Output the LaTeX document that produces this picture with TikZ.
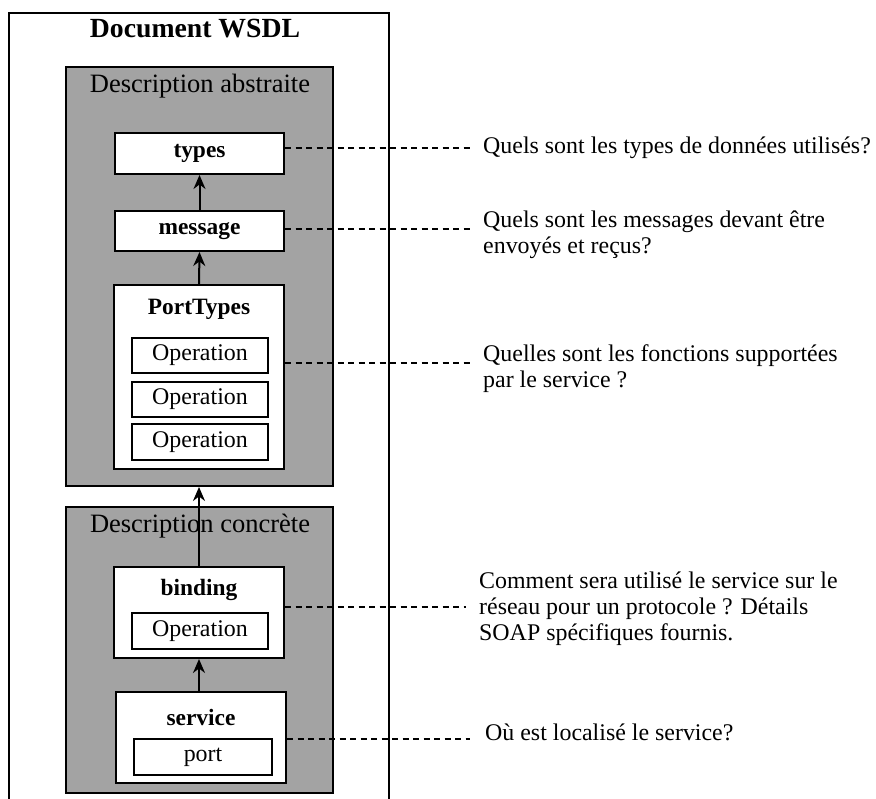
\documentclass[tikz,border=0pt]{standalone}
\usepackage{fontspec}
\setmainfont{Liberation Serif}
\usetikzlibrary{arrows.meta}
\begin{document}
\begin{tikzpicture}[x=1pt,y=-1pt,
  every node/.style={font=\fontsize{23.9}{26}\selectfont},
  greybox/.style={draw, line width=2pt, fill=black!36, inner sep=0pt},
  whitebox/.style={draw, line width=2pt, fill=white, inner sep=0pt},
  boldlbl/.style={inner sep=0pt, font=\fontsize{23.4}{26}\selectfont\bfseries},
  opbox/.style={draw, line width=1.8pt, fill=white, inner sep=0pt, minimum width=136pt, minimum height=35pt},
  lbl/.style={inner sep=0pt, font=\fontsize{26.5}{28}\selectfont},
  note/.style={anchor=west, align=left, inner sep=0pt},
  link/.style={-{Stealth[length=14pt,width=12pt]}, line width=2pt},
  guide/.style={dash pattern=on 6pt off 4.5pt, line width=1.5pt}]
\useasboundingbox (0,0) rectangle (876,799);
% outer document frame (continues below the bottom edge)
\draw[line width=2pt] (9,805) -- (9,13) -- (389,13) -- (389,805);
\node[inner sep=0pt, font=\fontsize{27.7}{30}\selectfont\bfseries] (title) at (195,29) {Document WSDL};
% abstract description
\node[greybox, minimum width=267pt, minimum height=419pt] (abs) at (199.5,276.5) {};
\node[lbl] (abslbl) at (200,86) {Description abstraite};
\node[whitebox, minimum width=169pt, minimum height=41pt, boldlbl] (types) at (199.5,153.5) {types};
\node[whitebox, minimum width=169pt, minimum height=40pt, boldlbl] (message) at (199.5,231) {message};
\node[whitebox, minimum width=170pt, minimum height=184pt] (ptypes) at (199,377) {};
\node[boldlbl] (ptlbl) at (199,309) {PortTypes};
\node[opbox] (op1) at (200,355.5) {Operation};
\node[opbox] (op2) at (200,399.5) {Operation};
\node[opbox, minimum height=36pt] (op3) at (200,442) {Operation};
% concrete description
\node[greybox, minimum width=267pt, minimum height=286pt] (conc) at (199.5,650) {};
\node[lbl] (conclbl) at (200,526) {Description concrète};
\node[whitebox, minimum width=170pt, minimum height=91pt] (binding) at (199,612.5) {};
\node[boldlbl] (bindlbl) at (199,590) {binding};
\node[opbox, minimum height=36pt] (bop) at (200,631) {Operation};
\node[whitebox, minimum width=170pt, minimum height=91pt] (service) at (201,737.5) {};
\node[boldlbl] (servlbl) at (201,717) {service};
\node[opbox, minimum width=138pt, minimum height=36pt] (port) at (203,757) {port};
% arrows
\draw[link] (message.north) -- (types.south);
\draw[link] (ptypes.north) -- (message.south);
\draw[link] (binding.north) -- (binding.north |- abs.south);
\draw[link] (service.north -| binding.south) -- (binding.south);
% notes
\node[note] (n1) at (483,148) {Quels sont les types de données utilisés?};
\node[note] (n2) at (483,235) {Quels sont les messages devant être\\envoyés et reçus?};
\node[note] (n3) at (483,368.5) {Quelles sont les fonctions supportées\\par le service ?};
\node[note] (n4) at (479,608.5) {Comment sera utilisé le service sur le\\réseau pour un protocole ? Détails\\SOAP spécifiques fournis.};
\node[note] (n5) at (485,732) {Où est localisé le service?};
\coordinate (e1) at (470,148);
\coordinate (e2) at (470,229);
\coordinate (e3) at (470,363);
\coordinate (e4) at (466,607);
\coordinate (e5) at (470,739);
\draw[guide] (types.east |- e1) -- (e1);
\draw[guide] (message.east |- e2) -- (e2);
\draw[guide] (ptypes.east |- e3) -- (e3);
\draw[guide] (binding.east |- e4) -- (e4);
\draw[guide] (service.east |- e5) -- (e5);
\end{tikzpicture}
\end{document}
